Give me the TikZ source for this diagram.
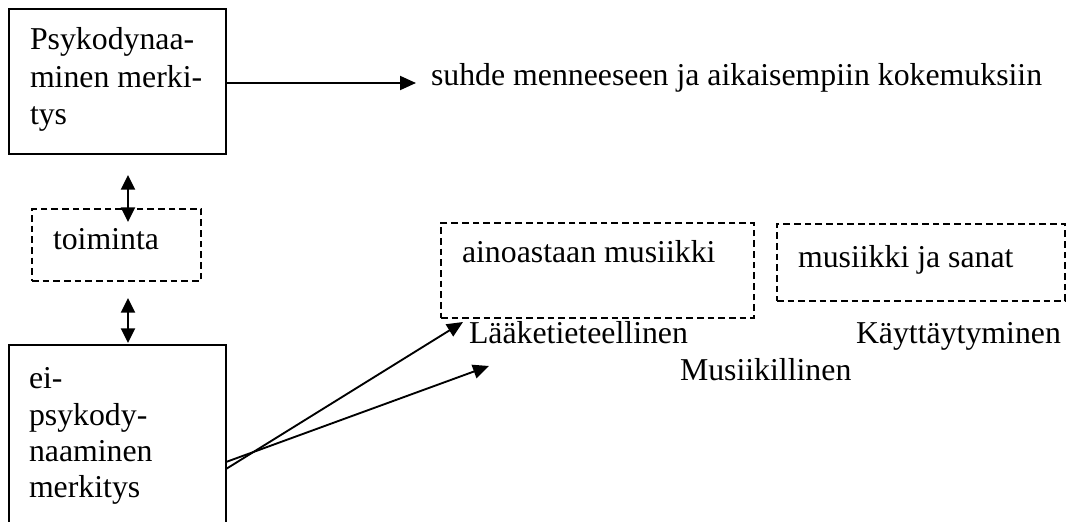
\documentclass[tikz,border=0pt]{standalone}
\usepackage{fontspec}
\setmainfont{Liberation Serif}
\usetikzlibrary{arrows.meta}
\begin{document}
\begin{tikzpicture}[x=0.75pt,y=-0.75pt,
  every node/.style={inner sep=0pt,outer sep=0pt},
  txt/.style={anchor=base west,font=\fontsize{23.85}{27}\selectfont},
  dbox/.style={draw,line width=1.4pt,dash pattern=on 5pt off 3pt},
  arr/.style={line width=1.4pt,-{Triangle[length=12pt,width=10.5pt]}},
  darr/.style={line width=1.4pt,{Triangle[length=11pt,width=10.5pt]}-{Triangle[length=11pt,width=10.5pt]}}]
\useasboundingbox (0,0) rectangle (1066,521);
\clip (0,0) rectangle (1066,521);
% boxes
\node[draw,line width=1.4pt,minimum width=162.75pt,minimum height=108.75pt] (box1) at (117.5,81.5) {};
\node[dbox,minimum width=126.75pt,minimum height=54pt] (act) at (116.5,245) {};
\node[draw,line width=1.4pt,minimum width=162.75pt,minimum height=161.25pt] (box2) at (117.5,452.5) {};
\node[dbox,minimum width=234.75pt,minimum height=71.25pt] (onlym) at (597.5,270.5) {};
\node[dbox,minimum width=216pt,minimum height=57.75pt] (mws) at (921,262.5) {};
% texts
\node[txt] (p1) at (30,49) {Psykodynaa-};
\node[txt] (p2) at (30,87) {minen merki-};
\node[txt] (p3) at (30,124) {tys};
\node[txt] (q1) at (29,388) {ei-};
\node[txt] (q2) at (29,425) {psykody-};
\node[txt] (q3) at (29,461) {naaminen};
\node[txt] (q4) at (29,497) {merkitys};
\node[txt] (toim) at (53,249) {toiminta};
\node[txt] (suhde) at (431,85) {suhde menneeseen ja aikaisempiin kokemuksiin};
\node[txt] (ain) at (462,262) {ainoastaan musiikki};
\node[txt] (mjs) at (798,267) {musiikki ja sanat};
\node[txt] (laak) at (469,343) {Lääketieteellinen};
\node[txt] (musl) at (680,380) {Musiikillinen};
\node[txt] (kayt) at (856,343) {Käyttäytyminen};
% connector coordinates
\coordinate (t1) at (416,83);
\coordinate (d1a) at (128,175);
\coordinate (d1b) at (128,222);
\coordinate (d2a) at (128,298);
\coordinate (d2b) at (128,343);
\coordinate (s1) at (226,469);
\coordinate (s2) at (226,462);
\coordinate (e1) at (463,322);
\coordinate (e2) at (489,366);
% connectors
\draw[arr] (box1.east |- t1) -- (t1);
\draw[darr] (d1a) -- (d1b);
\draw[darr] (d2a) -- (d2b);
\draw[arr] (s1) -- (e1);
\draw[arr] (s2) -- (e2);
\end{tikzpicture}
\end{document}
